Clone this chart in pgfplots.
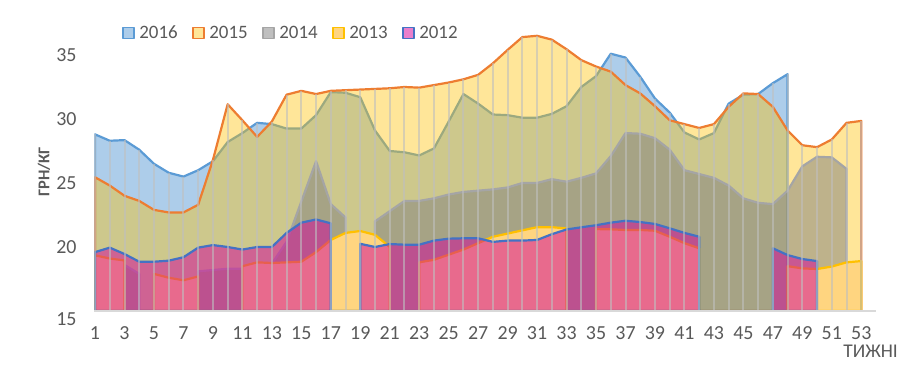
\documentclass[border=0pt]{standalone}
\usepackage{fontspec}
\setmainfont{Carlito}
\usepackage{pgfplots}
\pgfplotsset{compat=1.18}
\definecolor{c16}{RGB}{91,155,213}
\definecolor{c15f}{RGB}{255,192,0}
\definecolor{c15l}{RGB}{237,125,49}
\definecolor{c14f}{RGB}{127,127,127}
\definecolor{c14l}{RGB}{165,165,165}
\definecolor{c13f}{RGB}{255,213,128}
\definecolor{c13l}{RGB}{255,192,0}
\definecolor{c12f}{RGB}{211,0,154}
\definecolor{c12l}{RGB}{68,114,196}
\definecolor{txt}{RGB}{89,89,89}
\definecolor{axisgray}{RGB}{217,217,217}
\definecolor{dropg}{RGB}{191,191,191}
\begin{document}
\begin{tikzpicture}
\path[use as bounding box] (0,0) rectangle (900bp,366bp);
\begin{axis}[
  at={(94.3bp,55bp)}, anchor=south west,
  scale only axis, width=781.7bp, height=281.6bp,
  xmin=0.95, xmax=54, ymin=15, ymax=37,
  axis on top,
  axis x line*=bottom, axis y line*=left,
  x axis line style={draw=axisgray, line width=2.5bp},
  y axis line style={draw=none},
  major tick length=0pt, tick style={draw=none},
  xtick={1,3,...,53}, ytick={20,25,30,35},
  extra y ticks={15},
  extra y tick style={yticklabel style={yshift=-8bp}},
  /pgf/number format/assume math mode=true,
  ticklabel style={font=\fontsize{20}{21}\selectfont, text=txt},
  yticklabel style={anchor=east, inner sep=0pt, xshift=-17.6bp},
  xticklabel style={anchor=north, inner sep=0pt, yshift=-15.5bp},
  ylabel={\bfseries ГРН/КГ},
  ylabel style={at={(axis description cs:-0.0643,0.4936)}, anchor=center, font=\fontsize{16.5}{16.5}\selectfont, text=txt},
  xlabel={ТИЖНІ},
  xlabel style={at={(axis description cs:1,0)}, anchor=north east, xshift=22bp, yshift=-33.5bp, inner sep=0pt, font=\fontsize{19.5}{19.5}\selectfont, text=txt},
  legend columns=5,
  legend style={at={(axis description cs:0.0358,0.9872)}, anchor=west, draw=none, fill=none, inner sep=0pt, outer sep=0pt,
    font=\fontsize{19}{19}\selectfont, text=txt, nodes={inner sep=0pt},
    /tikz/every odd column/.append style={column sep=4.5bp},
    /tikz/every even column/.append style={column sep=14.5bp}},
  legend image code/.code={\draw[#1, line width=1.6bp] (0bp,-5.5bp) rectangle (11bp,5.5bp);},
]
% 2016
\addplot[draw=c16, line width=2.2bp, fill=c16, fill opacity=0.5, line join=round] coordinates {
(1,0)(1,28.8)(2,28.3)(3,28.35)(4,27.6)(5,26.5)(6,25.8)(7,25.5)(8,26.0)(9,26.7)(10,28.2)(11,28.9)(12,29.7)(13,29.6)(14,29.25)(15,29.25)(16,30.3)(17,32.1)(18,32.05)(19,31.7)(20,29.1)(21,27.5)(22,27.4)(23,27.15)(24,27.7)(25,29.8)(26,31.95)(27,31.2)(28,30.35)(29,30.3)(30,30.1)(31,30.1)(32,30.4)(33,31.0)(34,32.5)(35,33.35)(36,35.1)(37,34.8)(38,33.3)(39,31.6)(40,30.5)(41,28.95)(42,28.4)(43,28.9)(44,31.2)(45,31.9)(46,31.95)(47,32.8)(48,33.5)(48,0)
} \closedcycle;
\addlegendentry{2016}
% 2015
\addplot[draw=c15l, line width=2.2bp, fill=c15f, fill opacity=0.4, line join=round] coordinates {
(1,0)(1,25.45)(2,24.8)(3,24.0)(4,23.6)(5,22.9)(6,22.7)(7,22.7)(8,23.3)(9,26.8)(10,31.15)(11,29.9)(12,28.6)(13,29.8)(14,31.9)(15,32.2)(16,31.95)(17,32.2)(18,32.25)(19,32.3)(20,32.35)(21,32.4)(22,32.5)(23,32.45)(24,32.65)(25,32.85)(26,33.1)(27,33.45)(28,34.35)(29,35.4)(30,36.4)(31,36.5)(32,36.2)(33,35.45)(34,34.6)(35,34.1)(36,33.7)(37,32.65)(38,32.0)(39,31.0)(40,29.9)(41,29.6)(42,29.3)(43,29.6)(44,30.95)(45,32.0)(46,31.95)(47,30.95)(48,29.1)(49,27.95)(50,27.8)(51,28.4)(52,29.7)(53,29.85)(53,0)
} \closedcycle;
\addlegendentry{2015}
% 2014
\addplot[draw=c14l, line width=2.2bp, fill=c14f, fill opacity=0.5, line join=round] coordinates {
(1,0)(1,18.9)(2,18.8)(3,18.6)(4,17.9)(4,0)(8,0)(8,18.1)(9,18.2)(10,18.3)(11,18.3)(12,18.5)(13,18.7)(14,20.4)(15,23.55)(16,26.7)(17,23.35)(18,22.3)(18,0)(20,0)(20,22.0)(21,22.8)(22,23.6)(23,23.6)(24,23.8)(25,24.1)(26,24.3)(27,24.4)(28,24.5)(29,24.65)(30,25.0)(31,25.0)(32,25.3)(33,25.1)(34,25.4)(35,25.75)(36,27.1)(37,28.9)(38,28.85)(39,28.5)(40,27.6)(41,26.0)(42,25.7)(43,25.4)(44,24.8)(45,23.8)(46,23.45)(47,23.35)(48,24.4)(49,26.3)(50,27.05)(51,27.0)(52,26.1)(52,0)
} \closedcycle;
\addlegendentry{2014}
% 2013
\addplot[draw=c13l, line width=2.2bp, fill=c13f, line join=round] coordinates {
(1,0)(1,19.35)(2,19.1)(3,18.95)(3,0)(5,0)(5,17.9)(6,17.6)(7,17.4)(8,17.7)(8,0)(11,0)(11,18.5)(12,18.8)(13,18.75)(14,18.8)(15,18.85)(16,19.6)(17,20.55)(18,21.1)(19,21.25)(20,20.95)(21,20.0)(21,0)(23,0)(23,18.8)(24,19.0)(25,19.4)(26,19.8)(27,20.3)(28,20.8)(29,21.05)(30,21.3)(31,21.55)(32,21.55)(33,21.45)(33,0)(35,0)(35,21.4)(36,21.38)(37,21.33)(38,21.33)(39,21.27)(40,20.8)(41,20.3)(42,19.9)(42,0)(48,0)(48,18.5)(49,18.33)(50,18.28)(51,18.47)(52,18.8)(53,18.9)(53,0)
} \closedcycle;
\addlegendentry{2013}
% 2012
\addplot[draw=c12l, line width=2.2bp, fill=c12f, fill opacity=0.5, line join=round] coordinates {
(1,0)(1,19.6)(2,19.95)(3,19.45)(4,18.85)(5,18.85)(6,18.93)(7,19.2)(8,19.95)(9,20.15)(10,20.0)(11,19.8)(12,20.0)(13,20.0)(14,21.1)(15,21.9)(16,22.15)(17,21.85)(17,0)(19,0)(19,20.25)(20,20.0)(21,20.23)(22,20.18)(23,20.18)(24,20.5)(25,20.65)(26,20.68)(27,20.68)(28,20.4)(29,20.5)(30,20.5)(31,20.55)(32,21.0)(33,21.37)(34,21.54)(35,21.7)(36,21.9)(37,22.05)(38,21.95)(39,21.8)(40,21.46)(41,21.1)(42,20.8)(42,0)(47,0)(47,19.9)(48,19.37)(49,19.06)(50,18.9)(50,0)
} \closedcycle;
\addlegendentry{2012}
% drop lines
\addplot[ycomb, draw=dropg, draw opacity=0.6, line width=2bp, forget plot] coordinates {
(1,28.8)(2,28.3)(3,28.35)(4,27.6)(5,26.5)(6,25.8)(7,25.5)(8,26.0)(9,26.8)(10,31.15)(11,29.9)(12,29.7)(13,29.8)(14,31.9)(15,32.2)(16,31.95)(17,32.2)(18,32.25)(19,32.3)(20,32.35)(21,32.4)(22,32.5)(23,32.45)(24,32.65)(25,32.85)(26,33.1)(27,33.45)(28,34.35)(29,35.4)(30,36.4)(31,36.5)(32,36.2)(33,35.45)(34,34.6)(35,34.1)(36,35.1)(37,34.8)(38,33.3)(39,31.6)(40,30.5)(41,29.6)(42,29.3)(43,29.6)(44,31.2)(45,32.0)(46,31.95)(47,32.8)(48,33.5)(49,27.95)(50,27.8)(51,28.4)(52,29.7)(53,29.85)
};
\end{axis}
\end{tikzpicture}
\end{document}
